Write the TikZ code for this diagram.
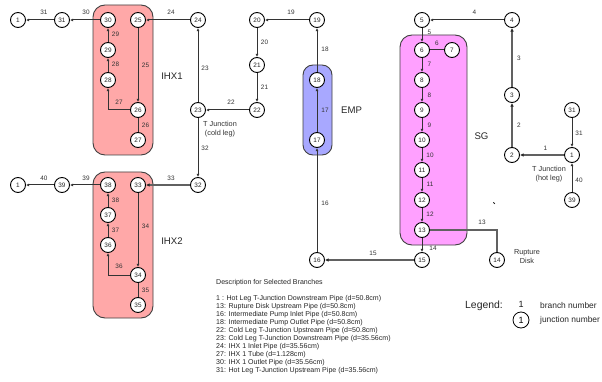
\documentclass[tikz,border=0pt]{standalone}
\usepackage{fontspec}
\setmainfont{Liberation Sans}
\usetikzlibrary{arrows.meta}
\tikzset{
 jn/.style={circle,draw=black,line width=0.9pt,fill=white,inner sep=0pt,minimum size=15pt,font=\fontsize{6.4}{7}\selectfont,text=black!85},
 lbl/.style={inner sep=0pt,font=\fontsize{6.4}{7}\selectfont,text=black!80},
 big/.style={inner sep=0pt,font=\fontsize{9.6}{10}\selectfont,text=black!85},
 note/.style={inner sep=0pt,font=\fontsize{7.3}{9}\selectfont,text=black!80,align=center},
 desc/.style={inner sep=0pt,anchor=west,font=\fontsize{7.05}{8}\selectfont,text=black!85},
 pipe/.style={line width=1pt,draw=black!80},
 wide/.style={line width=1.25pt,draw=black!62},
 flow/.style={pipe,-{Latex[length=3.2pt,width=3pt]}},
 wideflow/.style={wide,-{Latex[length=3.6pt,width=3.6pt,black!85]}},
 equip/.style={draw=black!75,line width=0.9pt,rounded corners=12pt},
}
\definecolor{ihx}{HTML}{FFA8A8}
\definecolor{emp}{HTML}{A8A8FF}
\definecolor{sg}{HTML}{FFA0FF}
\begin{document}
\begin{tikzpicture}[x=1pt,y=-1pt]
\useasboundingbox (0,0) rectangle (602,382);
\fill[white] (0,0) rectangle (602,382);
% equipment
\draw[equip,fill=ihx] (93,5) rectangle (153,155);
\draw[equip,fill=ihx] (93,172) rectangle (153,318);
\draw[equip,fill=emp,rounded corners=10pt] (303,65) rectangle (332,155);
\draw[equip,fill=sg] (400,35) rectangle (467,245);
% junctions
\foreach \n/\t/\x/\y in {
 a1/1/18/20,a31/31/62/20,j30/30/108/20,j25/25/138/20,j24/24/198/20,j20/20/257/20,j19/19/317/20,j5/5/422/20,j4/4/512/20,
 j29/29/108/50,j28/28/108/80,j26/26/138/110,j27/27/138/140,j23/23/198/110,j22/22/257/110,j21/21/257/65,
 b1/1/18/185,b39/39/62/185,j38/38/108/185,j33/33/138/185,j32/32/198/185,j37/37/108/215,j36/36/108/245,j34/34/138/275,j35/35/138/305,
 j18/18/317/80,j17/17/317/140,j16/16/317/260,j15/15/422/260,
 j6/6/422/50,j7/7/452/50,j8/8/422/80,j9/9/422/110,j10/10/422/140,j11/11/422/170,j12/12/422/200,j13/13/422/230,j14/14/497/260,
 j3/3/512/95,j2/2/512/155,j1/1/572/155,j31/31/572/110,j39/39/572/200}
 {\node[jn] (\n) at (\x,\y) {\t};}
% connectors
\foreach \a/\b in {a31/a1,j30/a31,j24/j25,j19/j20,j29/j30,j28/j29,j25/j26,j23/j24,j22/j23,j20/j21,j21/j22,j23/j32,
 b39/b1,j38/b39,j37/j38,j36/j37,j33/j34,
 j17/j18,j18/j19,j16/j17,j4/j5,j5/j6,j6/j8,j8/j9,j9/j10,j10/j11,j11/j12,j12/j13,j13/j15,
 j31/j1,j39/j1}
 {\draw[flow] (\a) -- (\b);}
\foreach \a/\b in {j32/j33,j15/j16,j3/j4,j2/j3,j1/j2}
 {\draw[wideflow] (\a) -- (\b);}
\draw[flow] (j26) -| (j28);
\draw[flow] (j34) -| (j36);
\draw[pipe] (j26) -- (j27);
\draw[pipe] (j34) -- (j35);
\draw[pipe] (j6) -- (j7);
\draw[wide] (j13) -| (j14);
% branch labels
\foreach \n/\t/\x/\y in {
 l1/31/44/12.5,l2/30/86/12.5,l3/24/171/12.5,l4/19/291/12.5,l5/29/115.5/34.5,l6/28/115.5/64.5,l7/25/145.5/65,l8/27/119/102.5,l9/26/145.5/125,
 l10/23/205/68.5,l11/22/231/102.5,l12/20/264.5/42.5,l13/21/264.5/87.5,l14/32/205/148,
 l15/40/44/178,l16/39/86/178,l17/33/171/178,l18/38/115.5/200,l19/37/115.5/230,l20/34/145.5/226,l21/36/119/266.5,l22/35/145.5/290,
 l23/18/325/49.5,l24/17/325/110,l25/16/325/203.5,l26/15/373/253,l27/14/433/248.5,l28/13/482/222,
 l29/4/474.5/12.5,l30/5/429.5/32,l31/6/437/43,l32/7/429.5/64.5,l33/8/429.5/95,l34/9/429.5/125,l35/10/430/155,l36/11/430/184.5,l37/12/430/214.5,
 l38/3/519/58,l39/2/519/125,l40/1/545.5/148,l41/31/579/133,l42/40/579/180.5}
 {\node[lbl] (\n) at (\x,\y) {\t};}
% equipment names
\node[big] (nihx1) at (172,76) {IHX1};
\node[big] (nihx2) at (172,241) {IHX2};
\node[big] (nemp) at (351.5,110) {EMP};
\node[big] (nsg) at (481.5,136) {SG};
% notes
\node[note] (tcold) at (220,129) {T Junction\\(cold leg)};
\node[note] (thot) at (549,174.5) {T Junction\\(hot leg)};
\node[note] (rup) at (527,256.5) {Rupture\\Disk};
\coordinate (t1) at (493.3,202.3); \coordinate (t2) at (494.8,203.8);
\draw[line width=0.8pt,black!85] (t1) -- (t2);
% description
\node[desc] (d0) at (216,283) {Description for Selected Branches};
\foreach \n/\y/\t in {
 d1/298.5/{1 : Hot Leg T-Junction Downstream Pipe (d=50.8cm)},
 d2/306.5/{13: Rupture Disk Upstream Pipe (d=50.8cm)},
 d3/314.5/{16: Intermediate Pump Inlet Pipe (d=50.8cm)},
 d4/322.5/{18: Intermediate Pump Outlet Pipe (d=50.8cm)},
 d5/330.5/{22: Cold Leg T-Junction Upstream Pipe (d=50.8cm)},
 d6/338.5/{23: Cold Leg T-Junction Downstream Pipe (d=35.56cm)},
 d7/346.5/{24: IHX 1 Inlet Pipe (d=35.56cm)},
 d8/354.5/{27: IHX 1 Tube (d=1.128cm)},
 d9/362.5/{30: IHX 1 Outlet Pipe (d=35.56cm)},
 d10/370.5/{31: Hot Leg T-Junction Upstream Pipe (d=35.56cm)}}
 {\node[desc] (\n) at (216,\y) {\t};}
% legend
\node[inner sep=0pt,font=\fontsize{10.4}{11}\selectfont,text=black!85] (lg) at (484,306) {Legend:};
\node[inner sep=0pt,font=\fontsize{9}{10}\selectfont,text=black!90] (lg1) at (521,304.5) {1};
\node[circle,draw=black,line width=0.8pt,fill=white,inner sep=0pt,minimum size=16pt,font=\fontsize{9}{10}\selectfont] (lg2) at (521,320) {1};
\node[inner sep=0pt,anchor=west,font=\fontsize{8.4}{9}\selectfont,text=black!85] (lg3) at (540,305) {branch number};
\node[inner sep=0pt,anchor=west,font=\fontsize{8.4}{9}\selectfont,text=black!85] (lg4) at (540,320) {junction number};
\end{tikzpicture}
\end{document}
